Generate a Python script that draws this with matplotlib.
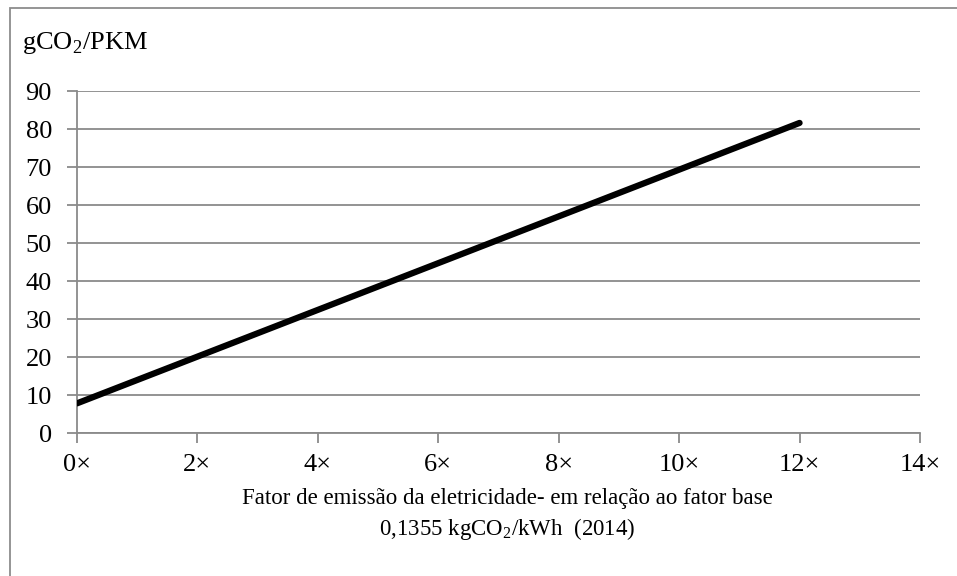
import matplotlib.pyplot as plt
from matplotlib.patches import Rectangle
from matplotlib.ticker import FuncFormatter

# data
emission_factor = [0, 12]
gco2_pkm = [7.8, 81.6]
x_ticks = [0, 2, 4, 6, 8, 10, 12, 14]
y_ticks = [0, 10, 20, 30, 40, 50, 60, 70, 80, 90]

plt.rcParams["font.family"] = ["Liberation Serif", "DejaVu Serif"]
plt.rcParams["mathtext.fontset"] = "custom"
plt.rcParams["mathtext.rm"] = "Liberation Serif"

W, H = 957, 576
fs = 19
fig = plt.figure(figsize=(W / 100, H / 100), dpi=100)

# outer chart border (cropped on right and bottom)
fig.patches.append(Rectangle((10 / W, -0.1), 1.2, 1.1 - 8 / H,
                             transform=fig.transFigure, fill=False,
                             edgecolor="#8c8c8c", linewidth=1.3))

ax = fig.add_axes([77 / W, 1 - 433 / H, (920 - 77) / W, (433 - 91) / H])
grid_color = "#8a8a8a"

ax.plot(emission_factor, gco2_pkm, color="black", linewidth=4.5,
        solid_capstyle="round", zorder=3)

ax.set_xlim(0, 14)
ax.set_ylim(0, 90)
ax.set_xticks(x_ticks)
ax.set_yticks(y_ticks)
ax.xaxis.set_major_formatter(FuncFormatter(lambda v, p: f"{v:.0f}\u00d7"))

ax.grid(axis="y", color=grid_color, linewidth=1.3)
ax.set_axisbelow(True)
for side in ["top", "right"]:
    ax.spines[side].set_visible(False)
for side in ["left", "bottom"]:
    ax.spines[side].set_color(grid_color)
    ax.spines[side].set_linewidth(1.3)

ax.tick_params(axis="both", direction="out", color=grid_color, width=1.3,
               length=7, labelsize=fs)
ax.tick_params(axis="x", pad=8)
ax.tick_params(axis="y", pad=11)

fig.text(22 / W, 1 - 43 / H, r"gCO$_2$/PKM", fontsize=fs, va="center", ha="left")

ax.set_xlabel("Fator de emissão da eletricidade- em relação ao fator base\n"
              r"0,1355 kgCO$_2$/kWh  (2014)", fontsize=16.5, labelpad=9,
              linespacing=1.35)
ax.xaxis.label.set_x(0.51)

fig.savefig("out.png", dpi=100)
